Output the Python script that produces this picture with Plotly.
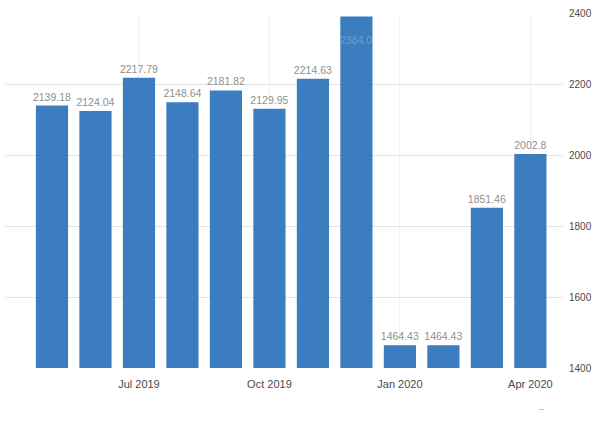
import plotly.graph_objects as go

months = ["May 2019", "Jun 2019", "Jul 2019", "Aug 2019", "Sep 2019", "Oct 2019",
          "Nov 2019", "Dec 2019", "Jan 2020", "Feb 2020", "Mar 2020", "Apr 2020"]
values = [2139.18, 2124.04, 2217.79, 2148.64, 2181.82, 2129.95,
          2214.63, 2390.0, 1464.43, 1464.43, 1851.46, 2002.8]
value_labels = ["2139.18", "2124.04", "2217.79", "2148.64", "2181.82", "2129.95",
                "2214.63", "2384.0", "1464.43", "1464.43", "1851.46", "2002.8"]
tick_months = ["Jul 2019", "Oct 2019", "Jan 2020", "Apr 2020"]
y_ticks = [1400, 1600, 1800, 2000, 2200, 2400]

FONT = "Liberation Sans Narrow, Arial Narrow, Liberation Sans, sans-serif"

Y_MAX = 2400
positions = ["none" if v >= 2380 else "outside" for v in values]

fig = go.Figure(go.Bar(
    x=months, y=values,
    text=value_labels, textposition=positions,
    textangle=0, constraintext="none",
    textfont=dict(family=FONT, size=10.5, color="#8f8f8f"),
    marker=dict(color="#3b7dbf", line=dict(width=0)),
    cliponaxis=True,
))

# label of the bar that reaches the top of the axis sits inside it
annotations = []
for m, v, lab, p in zip(months, values, value_labels, positions):
    if p == "none":
        annotations.append(dict(x=m, y=min(v, Y_MAX), yref="y", xref="x",
                                text=lab, showarrow=False, yanchor="top", yshift=-15,
                                font=dict(family=FONT, size=10.5, color="#6f9dcf")))
annotations.append(dict(x=0.97, y=-0.135, xref="paper", yref="paper", text="–",
                        showarrow=False, font=dict(size=9, color="#b0b0b0")))

fig.update_layout(
    width=597, height=428,
    margin=dict(l=5, r=31, t=13, b=60),
    paper_bgcolor="white", plot_bgcolor="white",
    bargap=0.26,
    showlegend=False,
    font=dict(family=FONT, size=11, color="#555555"),
    annotations=annotations,
)
fig.update_xaxes(
    type="category", range=[-1.08, 11.75],
    tickmode="array", tickvals=tick_months, ticktext=tick_months,
    showgrid=True, gridcolor="#f3f3f3", gridwidth=1,
    showline=False, ticks="", zeroline=False,
    ticklabelstandoff=8,
    tickfont=dict(family=FONT, size=11, color="#4a4a4a"),
)
fig.update_yaxes(
    side="right", range=[1400, Y_MAX],
    tickmode="array", tickvals=y_ticks,
    showgrid=True, gridcolor="#e3e3e3", gridwidth=1,
    zeroline=False, showline=False, ticks="",
    ticklabelstandoff=5,
    tickfont=dict(family=FONT, size=10, color="#4a4a4a"),
)
fig.write_html("out.html", config={"displayModeBar": False},
               post_script="document.body.style.margin='0';document.body.style.padding='0';")
